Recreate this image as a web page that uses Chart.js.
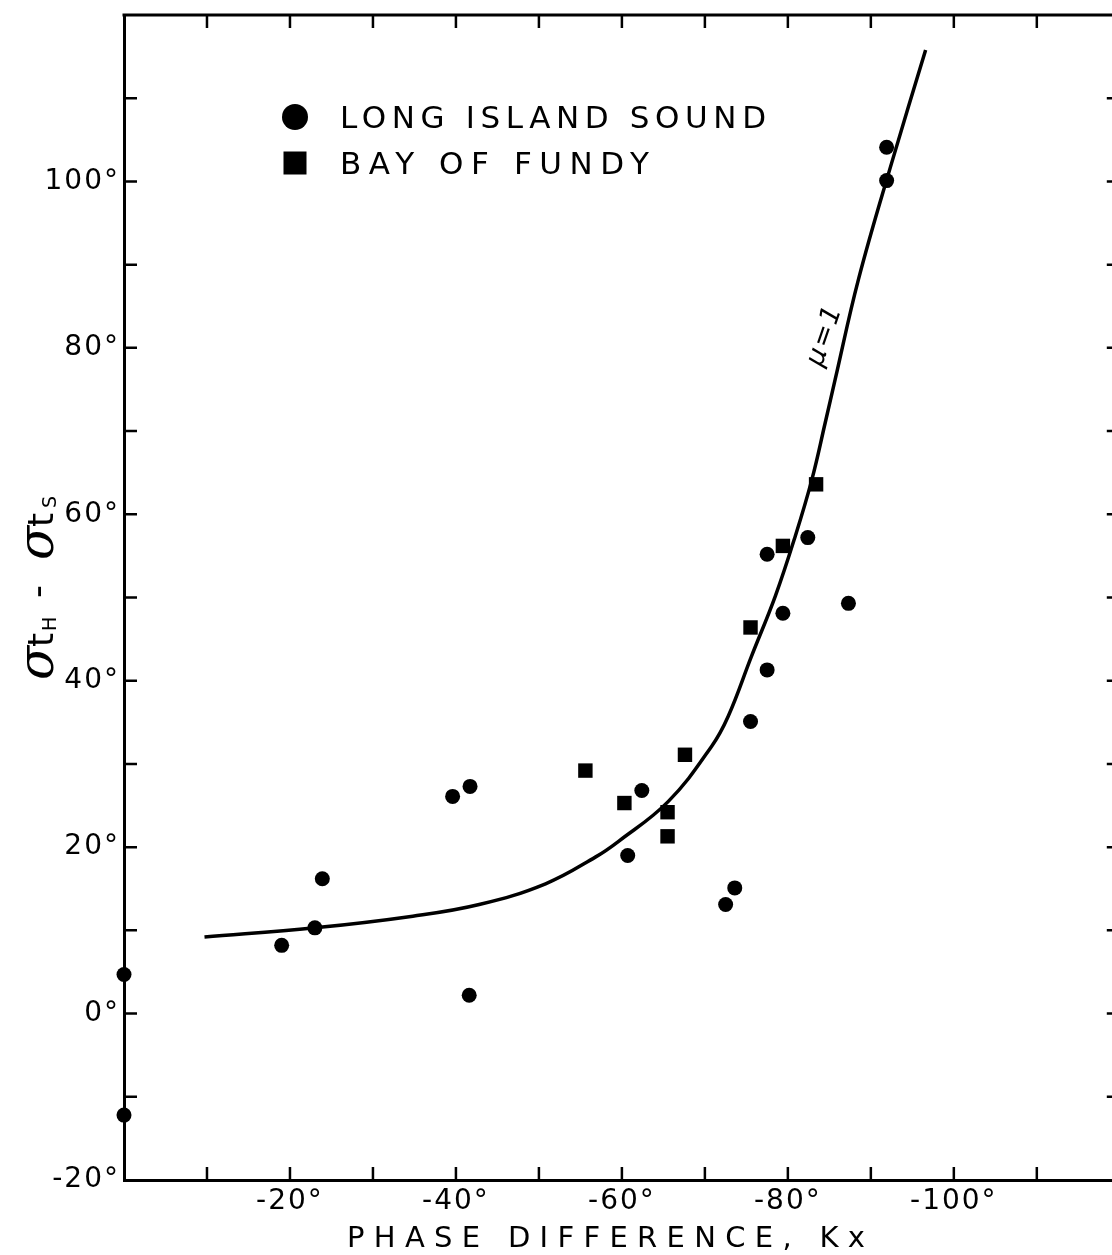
<!DOCTYPE html>
<html>
<head>
<meta charset="utf-8">
<title>Phase difference vs. time lag</title>
<script src="https://cdn.jsdelivr.net/npm/chart.js@4.4.1/dist/chart.umd.min.js"></script>
<style>
  html, body { margin: 0; padding: 0; background: #fff; overflow: hidden; }
  #wrap { width: 1130px; height: 1255px; }
</style>
</head>
<body>
<div id="wrap"><canvas id="chart" width="1130" height="1255"></canvas></div>
<script>
const FONT = '"DejaVu Sans", sans-serif';

// Long Island Sound observations (circles)
const lisPhase = [0, 0, -19.0, -23.0, -23.9, -39.6, -41.7, -41.6, -60.7, -62.4, -72.5, -73.6, -75.5, -77.5, -77.5, -79.4, -82.4, -87.3, -91.9, -91.9];
const lisLag = [4.7, -12.2, 8.2, 10.3, 16.2, 26.1, 27.3, 2.2, 19.0, 26.8, 13.1, 15.1, 35.1, 41.3, 55.2, 48.1, 57.2, 49.3, 104.1, 100.1];

// Bay of Fundy observations (squares)
const bofPhase = [-55.6, -60.3, -65.5, -65.5, -67.6, -75.5, -79.4, -83.4];
const bofLag = [29.2, 25.3, 24.2, 21.3, 31.1, 46.4, 56.2, 63.6];

// theoretical curve, mu = 1
const curvePhase = [-9.7, -23.0, -34.8, -42.8, -50.8, -56.8, -59.6, -65.6, -70.8, -72.8, -75.6, -78.5, -80.9, -82.9, -84.5, -85.7, -88.5, -92.5, -96.6];
const curveLag = [9.2, 10.3, 11.7, 13.1, 15.6, 18.8, 20.7, 25.5, 32.1, 35.7, 42.9, 50.2, 57.4, 64.2, 71.0, 76.2, 88.2, 102.2, 115.8];

const xLabelled = [-20, -40, -60, -80, -100];
const yLabelled = [-20, 0, 20, 40, 60, 80, 100];

const legendLabels = ["LONG ISLAND SOUND", "BAY OF FUNDY"];
const xTitle = "PHASE DIFFERENCE, Kx";
const curveLabel = "μ=1";

const toPoints = (xs, ys) => xs.map((x, i) => ({ x, y: ys[i] }));

// draw text stretched to a given width with letter spacing
function spacedText(ctx, text, x, y, width) {
    ctx.letterSpacing = "0px";
    const w0 = ctx.measureText(text).width;
    const ls = (width - w0) / (text.length - 1);
    ctx.letterSpacing = ls + "px";
    ctx.textAlign = "left";
    ctx.fillText(text, x, y);
    ctx.letterSpacing = "0px";
}

const frame = {
    id: "frame",
    beforeDraw(chart) {
        // the lettered tick labels are a little spread out
        chart.ctx.letterSpacing = "2px";
    },
    beforeDatasetsDraw(chart) {
        const { ctx, chartArea: a, scales } = chart;
        ctx.save();
        ctx.strokeStyle = "#000";
        ctx.lineWidth = 3;
        // top and right border
        ctx.beginPath();
        ctx.moveTo(a.left - 1.5, a.top);
        ctx.lineTo(a.right, a.top);
        ctx.lineTo(a.right, a.bottom);
        ctx.stroke();
        // inward tick marks on all four sides
        ctx.lineWidth = 2.5;
        const len = 13;
        ctx.beginPath();
        scales.x.ticks.forEach((t) => {
            if (t.value === 0 || t.value === -120) return;
            const px = scales.x.getPixelForValue(t.value);
            ctx.moveTo(px, a.bottom);
            ctx.lineTo(px, a.bottom - len);
            ctx.moveTo(px, a.top);
            ctx.lineTo(px, a.top + len);
        });
        scales.y.ticks.forEach((t) => {
            if (t.value === -20 || t.value === 120) return;
            const py = scales.y.getPixelForValue(t.value);
            ctx.moveTo(a.left, py);
            ctx.lineTo(a.left + len, py);
            ctx.moveTo(a.right, py);
            ctx.lineTo(a.right - len, py);
        });
        ctx.stroke();
        ctx.restore();
    },
    afterDraw(chart) {
        const { ctx, chartArea: a, scales } = chart;
        ctx.save();
        ctx.fillStyle = "#000";
        ctx.textBaseline = "alphabetic";

        // legend
        ctx.beginPath();
        ctx.arc(a.left + 171, 117, 13, 0, Math.PI * 2);
        ctx.fill();
        ctx.fillRect(a.left + 159.5, 151.5, 23, 23);
        ctx.font = "31px " + FONT;
        spacedText(ctx, legendLabels[0], a.left + 216, 128, 426);
        spacedText(ctx, legendLabels[1], a.left + 216, 174, 309);

        // x axis title
        ctx.font = "29px " + FONT;
        spacedText(ctx, xTitle, 347, 1247, 518);

        // curve label, written along the line
        const lx = scales.x.getPixelForValue(-84.5);
        const ly = scales.y.getPixelForValue(81.5);
        ctx.save();
        ctx.translate(lx, ly);
        ctx.rotate(-71 * Math.PI / 180);
        ctx.font = "italic 27px " + FONT;
        ctx.textAlign = "center";
        ctx.textBaseline = "middle";
        ctx.letterSpacing = "2px";
        ctx.fillText(curveLabel, 0, 0);
        ctx.restore();

        // y axis title: σt_H - σt_S, reading upward
        ctx.save();
        ctx.translate(53, 678);
        ctx.rotate(-Math.PI / 2);
        ctx.letterSpacing = "0px";
        ctx.textAlign = "left";
        ctx.textBaseline = "alphabetic";
        const sig = 'italic 50px "DejaVu Serif", serif';
        const tf = "36px " + FONT;
        const sub = "19px " + FONT;
        ctx.font = sig; ctx.fillText("σ", -2, 0);
        ctx.font = tf; ctx.fillText("t", 31, 0);
        ctx.font = sub; ctx.fillText("H", 47, 3);
        ctx.font = tf; ctx.fillText("-", 80, -4);
        ctx.font = sig; ctx.fillText("σ", 118, 0);
        ctx.font = tf; ctx.fillText("t", 151, 0);
        ctx.font = sub; ctx.fillText("S", 170, 3);
        ctx.restore();

        ctx.restore();
    },
};

new Chart(document.getElementById("chart"), {
    type: "scatter",
    data: {
        datasets: [
            {
                label: legendLabels[0],
                data: toPoints(lisPhase, lisLag),
                pointStyle: "circle",
                pointRadius: 7.5,
                backgroundColor: "#000",
                borderWidth: 0,
                clip: false,
            },
            {
                label: legendLabels[1],
                data: toPoints(bofPhase, bofLag),
                pointStyle: "rect",
                pointRadius: 10.2,
                backgroundColor: "#000",
                borderWidth: 0,
                clip: false,
            },
            {
                label: curveLabel,
                data: toPoints(curvePhase, curveLag),
                showLine: true,
                pointRadius: 0,
                borderColor: "#000",
                borderWidth: 3.5,
                tension: 0.4,
                clip: false,
            },
        ],
    },
    options: {
        responsive: false,
        animation: false,
        events: [],
        devicePixelRatio: 1,
        layout: { padding: { top: 15, right: 8, left: 0, bottom: 0 } },
        plugins: {
            legend: { display: false },
            tooltip: { enabled: false },
        },
        scales: {
            x: {
                type: "linear",
                reverse: true,
                min: -120,
                max: 0,
                afterFit: (s) => {
                    s.height = 75;
                    s.paddingLeft = 0;
                    s.paddingRight = 0;
                },
                grid: { drawOnChartArea: false, drawTicks: false },
                border: { display: true, color: "#000", width: 3 },
                ticks: {
                    stepSize: 10,
                    autoSkip: false,
                    maxRotation: 0,
                    padding: 5,
                    color: "#000",
                    font: { family: FONT, size: 28 },
                    callback: (v) => (xLabelled.includes(v) ? v + "°" : ""),
                },
            },
            y: {
                type: "linear",
                min: -20,
                max: 120,
                afterFit: (s) => {
                    s.width = 124;
                    s.paddingTop = 0;
                    s.paddingBottom = 0;
                },
                grid: { drawOnChartArea: false, drawTicks: false },
                border: { display: true, color: "#000", width: 3 },
                ticks: {
                    stepSize: 10,
                    autoSkip: false,
                    padding: 4,
                    color: "#000",
                    font: { family: FONT, size: 28 },
                    callback: (v) => (yLabelled.includes(v) ? v + "°" : ""),
                },
            },
        },
    },
    plugins: [frame],
});
</script>
</body>
</html>
